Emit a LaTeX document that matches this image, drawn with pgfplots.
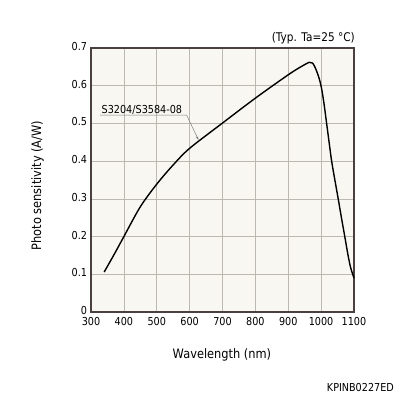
\documentclass[border=0pt]{standalone}
\usepackage{pgfplots}
\pgfplotsset{compat=1.18}
\usepackage{fontspec}
\setmainfont{DejaVu Sans}[FakeStretch=0.88]
\usetikzlibrary{arrows.meta}
\definecolor{bgc}{HTML}{F8F7F1}
\definecolor{gridc}{HTML}{BDB8B0}
\definecolor{framec}{HTML}{4A4040}
\begin{document}
\begin{tikzpicture}[x=1bp,y=1bp]
\useasboundingbox (0,0) rectangle (396,396);
\begin{axis}[
  at={(91bp,84bp)}, anchor=south west,
  scale only axis, width=263bp, height=264bp,
  xmin=300, xmax=1100, ymin=0, ymax=0.7,
  xtick={300,400,...,1100}, ytick={0,0.1,...,0.7},
  grid=major, major grid style={gridc, line width=0.7bp},
  major tick length=0pt,
  axis background/.style={fill=bgc},
  axis line style={framec, line width=1.4bp},
  font=\fontsize{11}{13}\selectfont,
  /pgf/number format/assume math mode=true,
  /pgf/number format/1000 sep={},
  yticklabel style={/pgf/number format/fixed, /pgf/number format/precision=1, xshift=-0.5bp, yshift=1.5bp},
  xticklabel style={yshift=-1.5bp},
  xlabel={Wavelength (nm)}, ylabel={Photo sensitivity (A/W)},
  xlabel style={font=\fontsize{13}{15}\selectfont, at={(axis description cs:0.498,-0.162)}, anchor=center},
  ylabel style={font=\fontsize{13}{15}\selectfont, at={(axis description cs:-0.203,0.479)}, anchor=center},
  clip=false,
]
\addplot[black, line width=1.4bp, smooth, tension=0.5] coordinates {
(340,0.106) (370,0.152) (400,0.200) (450,0.279) (500,0.339) (550,0.390)
(600,0.434) (700,0.501) (800,0.567) (900,0.629) (940,0.651) (964,0.662)
(974,0.660) (982,0.648) (990,0.630) (996,0.613) (1002,0.590)
(1009,0.551) (1016,0.505) (1024,0.452) (1032,0.400) (1042,0.349)
(1052,0.300) (1062,0.249) (1072,0.200) (1082,0.150) (1090,0.117) (1100,0.090)
};
\draw[gray, line width=0.5bp, -{Stealth[length=4bp,width=2.5bp]}]
  (axis cs:327,0.522) -- (axis cs:591,0.522) -- (axis cs:627,0.456);
\node[anchor=base west, inner sep=0pt, font=\fontsize{11}{13}\selectfont] at (axis cs:332,0.526) {S3204/S3584-08};
\end{axis}
\node[anchor=east, inner sep=0pt, font=\fontsize{12}{14}\selectfont] at (355,358) {(Typ. Ta=25 °C)};
\node[anchor=east, inner sep=0pt, font=\fontsize{11}{13}\selectfont] at (394,8.5) {KPINB0227ED};
\end{tikzpicture}
\end{document}
